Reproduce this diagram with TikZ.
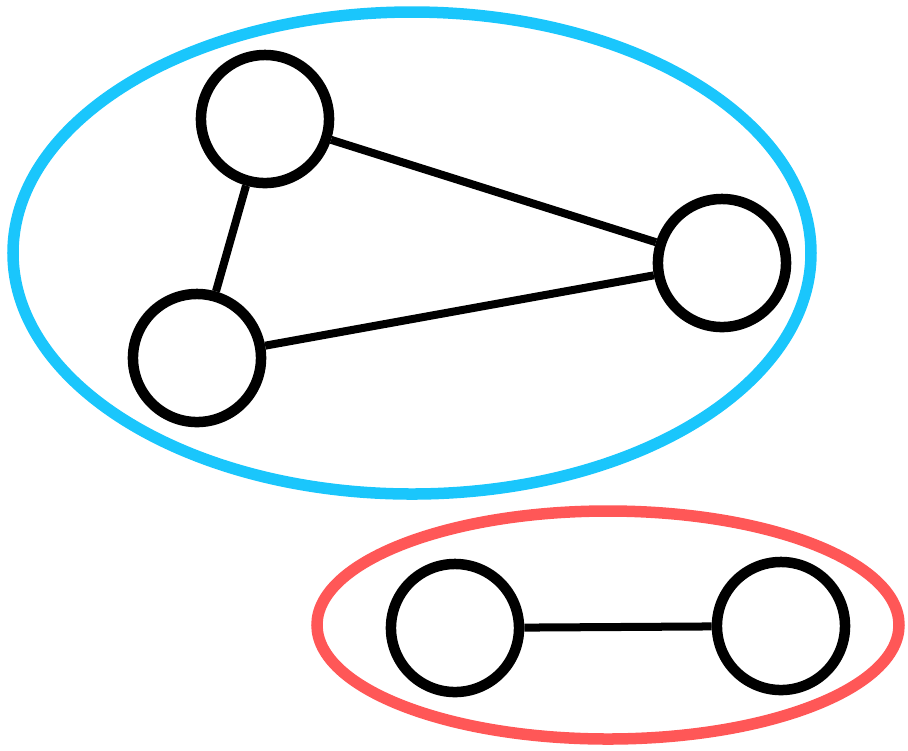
\documentclass[tikz,border=0pt]{standalone}
\usepackage{tikz}

\definecolor{groupblue}{HTML}{1AC6FC}
\definecolor{groupred}{HTML}{FF5757}

\begin{document}
\begin{tikzpicture}[x=0.01cm, y=-0.01cm,
    vertex/.style={draw, circle, line width=0.105cm, minimum size=1.28cm, inner sep=0pt},
    link/.style={line width=0.08cm},
    group/.style={line width=0.115cm}]
    \useasboundingbox (0,0) rectangle (908,750);
    % the two groups
    \draw[group, groupblue] (412,253) ellipse (399 and 241);
    \draw[group, groupred] (608,625) ellipse (291 and 114);
    % first group: a triangle
    \node[vertex] (A) at (265,119) {};
    \node[vertex] (B) at (197,358) {};
    \node[vertex] (C) at (722,263) {};
    \draw[link] (A) -- (B);
    \draw[link] (A) -- (C);
    \draw[link] (B) -- (C);
    % second group: a single pair
    \node[vertex] (D) at (455,628) {};
    \node[vertex] (E) at (781,626) {};
    \draw[link] (D) -- (E);
\end{tikzpicture}
\end{document}
